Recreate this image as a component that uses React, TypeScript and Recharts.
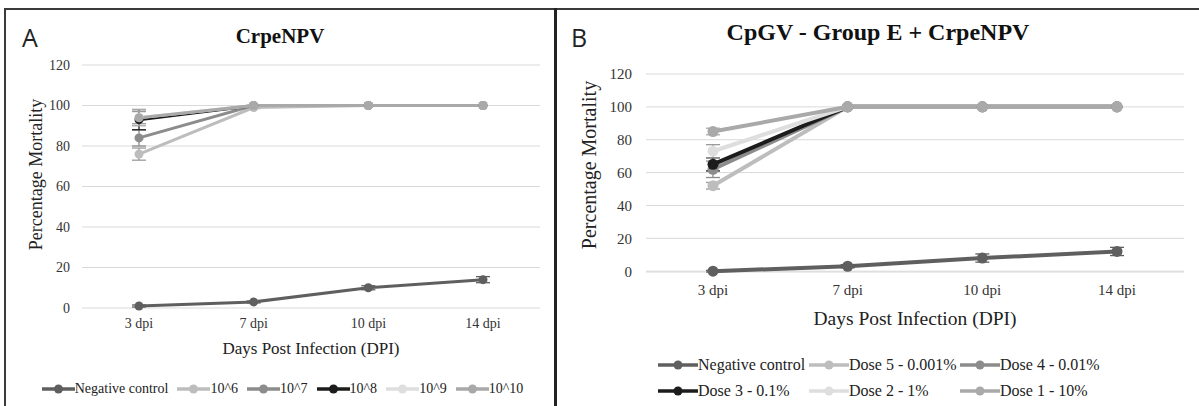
import React from "react";
import {
  LineChart,
  Line,
  XAxis,
  YAxis,
  CartesianGrid,
  ErrorBar,
  Legend,
} from "recharts";

const CATEGORIES = ["3 dpi", "7 dpi", "10 dpi", "14 dpi"];
const Y_TICKS = [0, 20, 40, 60, 80, 100, 120];

// Panel A - CrpeNPV
const A_NAMES = ["Negative control", "10^6", "10^7", "10^8", "10^9", "10^10"];
const A_COLORS = ["#5f5f5f", "#bdbdbd", "#8c8c8c", "#1c1c1c", "#dedede", "#a9a9a9"];
const A_NEG = [1, 3, 10, 14];
const A_NEG_ERR = [0.5, 0.5, 1, 1.5];
const A_E6 = [76, 99, 100, 100];
const A_E6_ERR = [3, 0.5, 0, 0];
const A_E7 = [84, 100, 100, 100];
const A_E7_ERR = [4, 0, 0, 0];
const A_E8 = [93, 100, 100, 100];
const A_E8_ERR = [5, 0, 0, 0];
const A_E9 = [94, 100, 100, 100];
const A_E9_ERR = [3, 0, 0, 0];
const A_E10 = [94, 100, 100, 100];
const A_E10_ERR = [4, 0, 0, 0];

// Panel B - CpGV - Group E + CrpeNPV
const B_NAMES = [
  "Negative control",
  "Dose 5 - 0.001%",
  "Dose 4 - 0.01%",
  "Dose 3 - 0.1%",
  "Dose 2 - 1%",
  "Dose 1 - 10%",
];
const B_COLORS = ["#5f5f5f", "#bdbdbd", "#8c8c8c", "#1c1c1c", "#dedede", "#a9a9a9"];
const B_NEG = [0, 3, 8, 12];
const B_NEG_ERR = [0.5, 1, 2.5, 2.5];
const B_D5 = [52, 100, 100, 100];
const B_D5_ERR = [2, 0, 0, 0];
const B_D4 = [62, 100, 100, 100];
const B_D4_ERR = [5, 0, 0, 0];
const B_D3 = [65, 100, 100, 100];
const B_D3_ERR = [4, 0, 0, 0];
const B_D2 = [73, 100, 100, 100];
const B_D2_ERR = [4, 0, 0, 0];
const B_D1 = [85, 100, 100, 100];
const B_D1_ERR = [2, 0, 0, 0];

const A_SERIES = [A_NEG, A_E6, A_E7, A_E8, A_E9, A_E10];
const A_ERRS = [A_NEG_ERR, A_E6_ERR, A_E7_ERR, A_E8_ERR, A_E9_ERR, A_E10_ERR];
const B_SERIES = [B_NEG, B_D5, B_D4, B_D3, B_D2, B_D1];
const B_ERRS = [B_NEG_ERR, B_D5_ERR, B_D4_ERR, B_D3_ERR, B_D2_ERR, B_D1_ERR];

const SERIF = "'Liberation Serif', 'Times New Roman', serif";

function buildRows(series: number[][], errs: number[][]) {
  return CATEGORIES.map((cat, i) => {
    const row: Record<string, string | number> = { cat };
    series.forEach((s, k) => {
      row[`s${k}`] = s[i];
      row[`e${k}`] = errs[k][i];
    });
    return row;
  });
}

const dataA = buildRows(A_SERIES, A_ERRS);
const dataB = buildRows(B_SERIES, B_ERRS);

function errColor(c: string) {
  // very light series get a readable grey bar
  return c === "#dedede" || c === "#bdbdbd" ? "#9a9a9a" : c;
}

function makeLegend(
  names: string[],
  colors: string[],
  fontSize: number,
  iconW: number,
  shift: number,
  colW?: number
) {
  return () => (
    <div
      style={{
        display: "flex",
        flexWrap: "wrap",
        justifyContent: "center",
        fontFamily: SERIF,
        fontSize,
        color: "#222",
        width: colW ? colW * 3 : undefined,
        margin: "0 auto",
        rowGap: 4,
        transform: `translateX(${shift}px)`,
      }}
    >
      {names.map((n, i) => (
        <div
          key={n}
          style={{
            display: "flex",
            alignItems: "center",
            width: colW,
            marginRight: colW ? 0 : 9,
            height: 22,
          }}
        >
          <svg width={iconW} height={12} style={{ flexShrink: 0 }}>
            <line x1={0} y1={6} x2={iconW} y2={6} stroke={colors[i]} strokeWidth={3.5} />
            <circle cx={iconW / 2} cy={6} r={4.5} fill={colors[i]} />
          </svg>
          <span style={{ whiteSpace: "nowrap" }}>{n}</span>
        </div>
      ))}
    </div>
  );
}

function yLabel(text: string, dx: number, dy: number, fontSize: number) {
  return (props: any) => {
    const vb = props.viewBox || {};
    const cx = vb.x + dx;
    const cy = vb.y + vb.height / 2 + dy;
    return (
      <text
        x={cx}
        y={cy}
        transform={`rotate(-90 ${cx} ${cy})`}
        textAnchor="middle"
        dominantBaseline="central"
        fontFamily={SERIF}
        fontSize={fontSize}
        fill="#222"
      >
        {text}
      </text>
    );
  };
}

function xLabel(text: string, dy: number, fontSize: number) {
  return (props: any) => {
    const vb = props.viewBox || {};
    return (
      <text
        x={vb.x + vb.width / 2}
        y={vb.y + dy}
        textAnchor="middle"
        dominantBaseline="central"
        fontFamily={SERIF}
        fontSize={fontSize}
        fill="#222"
      >
        {text}
      </text>
    );
  };
}

function Panel(props: {
  data: Record<string, string | number>[];
  names: string[];
  colors: string[];
  width: number;
  height: number;
  margin: { top: number; right: number; bottom: number; left: number };
  yAxisWidth: number;
  xAxisHeight: number;
  xPad: number;
  tickFont: number;
  xLabelFont: number;
  yLabelFont: number;
  yLabelDx: number;
  yLabelDy: number;
  xLabelDy: number;
  yTickMargin: number;
  xTickMargin: number;
  lineW: number;
  dotR: number;
  legend: () => React.ReactElement;
}) {
  const p = props;
  return (
    <LineChart width={p.width} height={p.height} data={p.data} margin={p.margin}>
      <CartesianGrid vertical={false} stroke="#d9d9d9" strokeWidth={1} />
      <XAxis
        dataKey="cat"
        axisLine={false}
        tickLine={false}
        height={p.xAxisHeight}
        padding={{ left: p.xPad, right: p.xPad }}
        tickMargin={p.xTickMargin}
        tick={{ fontFamily: SERIF, fontSize: p.tickFont, fill: "#333" }}
        label={{ content: xLabel("Days Post Infection (DPI)", p.xLabelDy, p.xLabelFont) }}
      />
      <YAxis
        domain={[0, 120]}
        ticks={Y_TICKS}
        axisLine={false}
        tickLine={false}
        width={p.yAxisWidth}
        tickMargin={p.yTickMargin}
        tick={{ fontFamily: SERIF, fontSize: p.tickFont, fill: "#333" }}
        label={{ content: yLabel("Percentage Mortality", p.yLabelDx, p.yLabelDy, p.yLabelFont) }}
      />
      <Legend verticalAlign="bottom" content={p.legend} />
      {p.names.map((n, k) => (
        <Line
          key={n}
          name={n}
          dataKey={`s${k}`}
          stroke={p.colors[k]}
          strokeWidth={p.lineW}
          dot={{ r: p.dotR, fill: p.colors[k], stroke: p.colors[k], strokeWidth: 0 }}
          activeDot={false}
          isAnimationActive={false}
        >
          <ErrorBar
            dataKey={`e${k}`}
            width={7}
            strokeWidth={1.3}
            stroke={errColor(p.colors[k])}
            isAnimationActive={false}
          />
        </Line>
      ))}
    </LineChart>
  );
}

export default function App() {
  return (
    <div
      style={{
        position: "absolute",
        left: 0,
        top: 0,
        width: 1199,
        height: 406,
        background: "#fff",
        overflow: "hidden",
      }}
    >
      {/* frame */}
      <div style={{ position: "absolute", left: 4, top: 8, width: 1195, height: 2, background: "#3a3a3a" }} />
      <div style={{ position: "absolute", left: 4, top: 8, width: 2, height: 398, background: "#3a3a3a" }} />
      <div style={{ position: "absolute", left: 554, top: 8, width: 3, height: 398, background: "#222" }} />

      {/* panel A */}
      <div style={{ position: "absolute", left: 22, top: 20, fontFamily: "'Open Sans', sans-serif", fontSize: 25, color: "#222" }}>
        A
      </div>
      <div
        style={{
          position: "absolute",
          left: 6,
          width: 548,
          top: 24,
          textAlign: "center",
          fontFamily: SERIF,
          fontWeight: 700,
          fontSize: 21,
          color: "#111",
        }}
      >
        CrpeNPV
      </div>
      <div style={{ position: "absolute", left: 6, top: 10 }}>
        <Panel
          data={dataA}
          names={A_NAMES}
          colors={A_COLORS}
          width={548}
          height={396}
          margin={{ top: 55, right: 14, bottom: 6, left: 0 }}
          yAxisWidth={76}
          xAxisHeight={70}
          xPad={57}
          tickFont={14}
          xLabelFont={17}
          yLabelFont={18}
          yLabelDx={30}
          yLabelDy={-12}
          xLabelDy={40}
          yTickMargin={6}
          xTickMargin={4}
          lineW={3}
          dotR={4.5}
          legend={makeLegend(A_NAMES, A_COLORS, 14, 33, 14)}
        />
      </div>

      {/* panel B */}
      <div style={{ position: "absolute", left: 571, top: 20, fontFamily: "'Open Sans', sans-serif", fontSize: 25, color: "#222" }}>
        B
      </div>
      <div
        style={{
          position: "absolute",
          left: 557,
          width: 642,
          top: 19,
          textAlign: "center",
          fontFamily: SERIF,
          fontWeight: 700,
          fontSize: 24,
          color: "#111",
        }}
      >
        CpGV - Group E + CrpeNPV
      </div>
      <div style={{ position: "absolute", left: 557, top: 10 }}>
        <Panel
          data={dataB}
          names={B_NAMES}
          colors={B_COLORS}
          width={642}
          height={396}
          margin={{ top: 64, right: 15, bottom: 4, left: 0 }}
          yAxisWidth={89}
          xAxisHeight={82}
          xPad={67}
          tickFont={15}
          xLabelFont={19.5}
          yLabelFont={20}
          yLabelDx={32}
          yLabelDy={-8}
          xLabelDy={46}
          yTickMargin={8}
          xTickMargin={6}
          lineW={4}
          dotR={5.5}
          legend={makeLegend(B_NAMES, B_COLORS, 16, 40, 14, 151)}
        />
      </div>
    </div>
  );
}
